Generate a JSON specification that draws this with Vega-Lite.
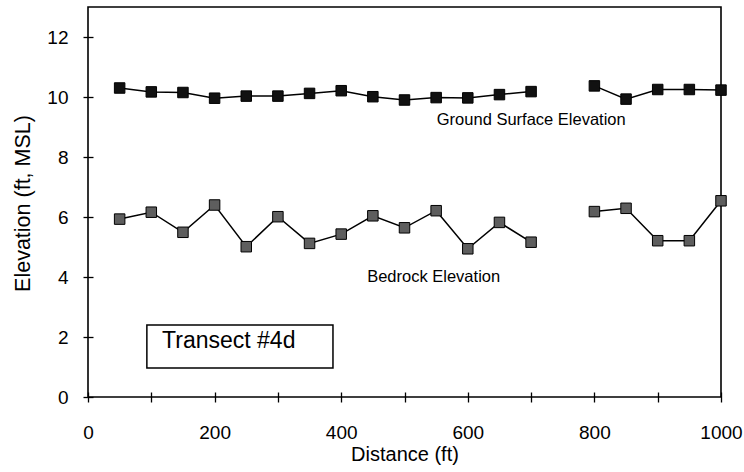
{
  "$schema": "https://vega.github.io/schema/vega-lite/v6.json",
  "width": 633,
  "height": 390,
  "autosize": {"type": "none"},
  "padding": {"left": 88, "top": 7, "right": 23, "bottom": 75},
  "background": "white",
  "config": {
    "view": {"stroke": "black", "strokeWidth": 1.6},
    "font": "Liberation Sans",
    "axis": {"grid": false, "domain": false, "tickColor": "black", "tickWidth": 1.3, "labelColor": "black", "titleColor": "black", "titleFontWeight": "normal"}
  },
  "data": {
    "values": [
      {"distance": 50, "elevation": 10.3, "series": "Ground", "segment": "A"},
      {"distance": 100, "elevation": 10.17, "series": "Ground", "segment": "A"},
      {"distance": 150, "elevation": 10.15, "series": "Ground", "segment": "A"},
      {"distance": 200, "elevation": 9.96, "series": "Ground", "segment": "A"},
      {"distance": 250, "elevation": 10.03, "series": "Ground", "segment": "A"},
      {"distance": 300, "elevation": 10.03, "series": "Ground", "segment": "A"},
      {"distance": 350, "elevation": 10.12, "series": "Ground", "segment": "A"},
      {"distance": 400, "elevation": 10.21, "series": "Ground", "segment": "A"},
      {"distance": 450, "elevation": 10.01, "series": "Ground", "segment": "A"},
      {"distance": 500, "elevation": 9.9, "series": "Ground", "segment": "A"},
      {"distance": 550, "elevation": 9.98, "series": "Ground", "segment": "A"},
      {"distance": 600, "elevation": 9.97, "series": "Ground", "segment": "A"},
      {"distance": 650, "elevation": 10.08, "series": "Ground", "segment": "A"},
      {"distance": 700, "elevation": 10.18, "series": "Ground", "segment": "A"},
      {"distance": 800, "elevation": 10.37, "series": "Ground", "segment": "B"},
      {"distance": 850, "elevation": 9.93, "series": "Ground", "segment": "B"},
      {"distance": 900, "elevation": 10.25, "series": "Ground", "segment": "B"},
      {"distance": 950, "elevation": 10.25, "series": "Ground", "segment": "B"},
      {"distance": 1000, "elevation": 10.23, "series": "Ground", "segment": "B"},
      {"distance": 50, "elevation": 5.93, "series": "Bedrock", "segment": "A"},
      {"distance": 100, "elevation": 6.16, "series": "Bedrock", "segment": "A"},
      {"distance": 150, "elevation": 5.49, "series": "Bedrock", "segment": "A"},
      {"distance": 200, "elevation": 6.4, "series": "Bedrock", "segment": "A"},
      {"distance": 250, "elevation": 5.01, "series": "Bedrock", "segment": "A"},
      {"distance": 300, "elevation": 6.01, "series": "Bedrock", "segment": "A"},
      {"distance": 350, "elevation": 5.12, "series": "Bedrock", "segment": "A"},
      {"distance": 400, "elevation": 5.43, "series": "Bedrock", "segment": "A"},
      {"distance": 450, "elevation": 6.04, "series": "Bedrock", "segment": "A"},
      {"distance": 500, "elevation": 5.64, "series": "Bedrock", "segment": "A"},
      {"distance": 550, "elevation": 6.21, "series": "Bedrock", "segment": "A"},
      {"distance": 600, "elevation": 4.94, "series": "Bedrock", "segment": "A"},
      {"distance": 650, "elevation": 5.82, "series": "Bedrock", "segment": "A"},
      {"distance": 700, "elevation": 5.16, "series": "Bedrock", "segment": "A"},
      {"distance": 800, "elevation": 6.18, "series": "Bedrock", "segment": "B"},
      {"distance": 850, "elevation": 6.29, "series": "Bedrock", "segment": "B"},
      {"distance": 900, "elevation": 5.21, "series": "Bedrock", "segment": "B"},
      {"distance": 950, "elevation": 5.21, "series": "Bedrock", "segment": "B"},
      {"distance": 1000, "elevation": 6.54, "series": "Bedrock", "segment": "B"}
    ]
  },
  "layer": [
    {
      "mark": {"type": "line", "color": "black", "strokeWidth": 1.5},
      "encoding": {
        "x": {"field": "distance", "type": "quantitative", "scale": {"domain": [0, 1000]},
          "axis": {"orient": "bottom", "offset": -5, "values": [0, 100, 200, 300, 400, 500, 600, 700, 800, 900, 1000],
            "format": "d", "labelExpr": "datum.value % 200 ? '' : datum.label", "tickSize": 10, "labelPadding": 21,
            "labelFontSize": 19, "labelFlush": false, "title": "Distance (ft)", "titleFontSize": 20, "titlePadding": 2}},
        "y": {"field": "elevation", "type": "quantitative", "scale": {"domain": [0, 13]},
          "axis": {"orient": "left", "offset": -5, "values": [0, 1, 2, 3, 4, 5, 6, 7, 8, 9, 10, 11, 12],
            "labelExpr": "datum.value % 2 ? '' : datum.label", "tickSize": 10, "labelPadding": 15,
            "labelFontSize": 19, "title": "Elevation (ft, MSL)", "titleFontSize": 21.5,
            "titleX": -70, "titleY": 196, "titleBaseline": "middle"}},
        "detail": [{"field": "series"}, {"field": "segment"}]
      }
    },
    {
      "mark": {"type": "point", "shape": "square", "filled": true, "size": 110, "opacity": 1, "stroke": "black", "strokeWidth": 1},
      "encoding": {
        "x": {"field": "distance", "type": "quantitative"},
        "y": {"field": "elevation", "type": "quantitative"},
        "fill": {"field": "series", "type": "nominal", "scale": {"domain": ["Ground", "Bedrock"], "range": ["#111111", "#5e5e5e"]}, "legend": null}
      }
    },
    {
      "data": {"values": [{}]},
      "mark": {"type": "text", "align": "left", "baseline": "alphabetic", "fontSize": 16.5, "fill": "black"},
      "encoding": {
        "x": {"datum": 551, "type": "quantitative"},
        "y": {"datum": 9.07, "type": "quantitative"},
        "text": {"value": "Ground Surface Elevation"}
      }
    },
    {
      "data": {"values": [{}]},
      "mark": {"type": "text", "align": "left", "baseline": "alphabetic", "fontSize": 16.5, "fill": "black"},
      "encoding": {
        "x": {"datum": 441, "type": "quantitative"},
        "y": {"datum": 3.83, "type": "quantitative"},
        "text": {"value": "Bedrock Elevation"}
      }
    },
    {
      "data": {"values": [{}]},
      "mark": {"type": "rect", "fill": "black", "xOffset": 3, "yOffset": 3},
      "encoding": {
        "x": {"datum": 93, "type": "quantitative"},
        "x2": {"datum": 387},
        "y": {"datum": 2.4, "type": "quantitative"},
        "y2": {"datum": 0.97}
      }
    },
    {
      "data": {"values": [{}]},
      "mark": {"type": "rect", "fill": "white", "stroke": "black", "strokeWidth": 1.5},
      "encoding": {
        "x": {"datum": 93, "type": "quantitative"},
        "x2": {"datum": 387},
        "y": {"datum": 2.4, "type": "quantitative"},
        "y2": {"datum": 0.97}
      }
    },
    {
      "data": {"values": [{}]},
      "mark": {"type": "text", "align": "left", "baseline": "alphabetic", "fontSize": 23, "fill": "black"},
      "encoding": {
        "x": {"datum": 117, "type": "quantitative"},
        "y": {"datum": 1.63, "type": "quantitative"},
        "text": {"value": "Transect #4d"}
      }
    }
  ]
}
